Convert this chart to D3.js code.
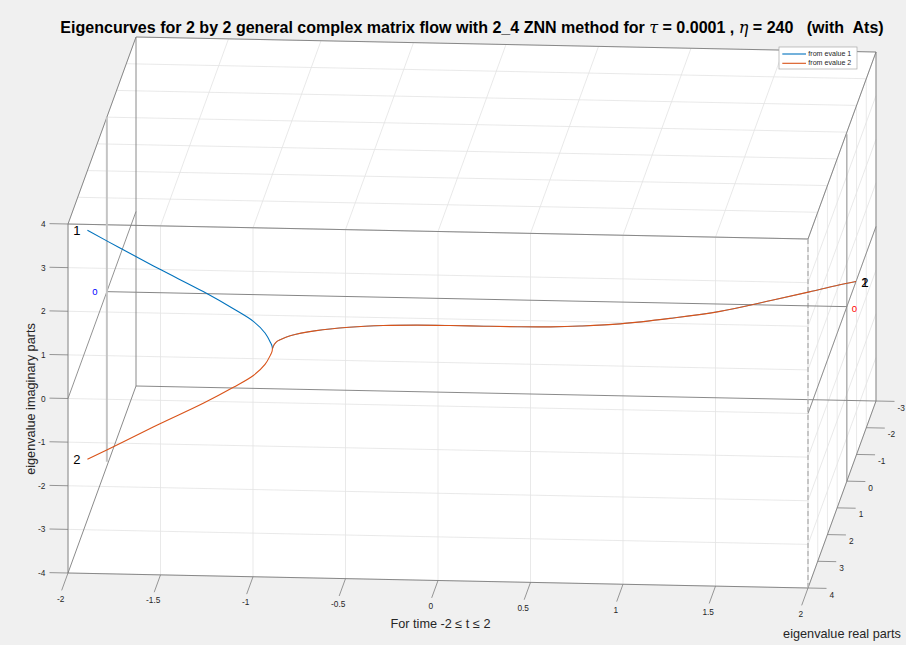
<!DOCTYPE html>
<html><head><meta charset="utf-8">
<script src="https://cdn.jsdelivr.net/npm/d3@7"></script>
<style>
html,body{margin:0;padding:0;background:#f0f0f0;}
svg{display:block;font-family:"Liberation Sans",Arial,Helvetica,sans-serif;}
</style></head><body>
<svg id="chart" width="906" height="645"></svg>
<script>
// ---------------- data ----------------
const timeTicks = [-2, -1.5, -1, -0.5, 0, 0.5, 1, 1.5, 2];
const timeTickLabels = ["-2", "-1.5", "-1", "-0.5", "0", "0.5", "1", "1.5", "2"];
const realTicks = [-3, -2, -1, 0, 1, 2, 3, 4];
const realTickLabels = ["-3", "-2", "-1", "0", "1", "2", "3", "4"];
const imagTicks = [-4, -3, -2, -1, 0, 1, 2, 3, 4];
const imagTickLabels = ["-4", "-3", "-2", "-1", "0", "1", "2", "3", "4"];
const seriesNames = ["from evalue 1", "from evalue 2"];
const seriesColors = ["#0072bd", "#d95319"];

// eigenvalue 1 (before coalescence)
const tEval1  = [-2.0, -1.824, -1.608, -1.374, -1.211, -1.103, -1.04, -1.009, -1.002, -1.0];
const reEval1 = [2.0, 2.0, 2.0, 2.0, 2.0, 2.0, 2.0, 2.0, 2.0, 2.0];
const imEval1 = [2.63, 2.24, 1.77, 1.28, 0.90, 0.62, 0.36, 0.13, 0.06, 0.0];
// eigenvalue 2 (before coalescence)
const tEval2  = [-2.0, -1.824, -1.608, -1.374, -1.211, -1.103, -1.04, -1.009, -1.002, -1.0];
const reEval2 = [2.0, 2.0, 2.0, 2.0, 2.0, 2.0, 2.0, 2.0, 2.0, 2.0];
const imEval2 = [-2.62, -2.24, -1.77, -1.28, -0.90, -0.62, -0.36, -0.13, -0.06, 0.0];
// common path of both eigenvalues after coalescence
const tMerged  = [-1.0, -0.999, -0.99, -0.977, -0.93, -0.8, -0.63, -0.45, -0.27, -0.09, 0.09, 0.27, 0.45, 0.606, 0.817, 1.074, 1.329, 1.58, 1.77, 1.9, 2.0];
const reMerged = [2.0, 1.85, 1.72, 1.66, 1.5, 1.29, 1.14, 1.05, 1.01, 1.0, 1.0, 0.995, 0.975, 0.922, 0.81, 0.568, 0.27, -0.17, -0.52, -0.77, -0.94];
const imMerged = [0, 0, 0, 0, 0, 0, 0, 0, 0, 0, 0, 0, 0, 0, 0, 0, 0, 0, 0, 0, 0];

// ---------------- projection ----------------
const tDom = [-2, 2], rDom = [-3, 4], zDom = [-4, 4];
const tS = d3.scaleLinear().domain(tDom).range([0, 1]);
const rS = d3.scaleLinear().domain([rDom[1], rDom[0]]).range([0, 1]);
const zS = d3.scaleLinear().domain(zDom).range([0, 1]);
const O = [68, 573], VT = [740, 15], VR = [68, -187], VZ = [0, -349];
function P(t, r, z) {
  const a = tS(t), b = rS(r), c = zS(z);
  return [O[0] + a * VT[0] + b * VR[0] + c * VZ[0], O[1] + a * VT[1] + b * VR[1] + c * VZ[1]];
}

const svg = d3.select("#chart");
svg.append("rect").attr("width", 906).attr("height", 645).attr("fill", "#f0f0f0");

// back planes (white)
const hex = [P(-2,4,4), P(-2,-3,4), P(2,-3,4), P(2,-3,-4), P(2,4,-4), P(-2,4,-4)];
svg.append("polygon").attr("points", hex.map(p => p.join(",")).join(" ")).attr("fill", "#ffffff");

function seg(g, a, b, stroke, w, dash) {
  const l = g.append("line").attr("x1", a[0]).attr("y1", a[1]).attr("x2", b[0]).attr("y2", b[1])
    .attr("stroke", stroke).attr("stroke-width", w);
  if (dash) l.attr("stroke-dasharray", dash);
  return l;
}

// grid
const grid = svg.append("g");
const gc = "#e3e3e3", gw = 0.8;
imagTicks.forEach(z => { seg(grid, P(-2,4,z), P(2,4,z), gc, gw); seg(grid, P(2,-3,z), P(2,4,z), gc, gw); });
timeTicks.forEach(t => { seg(grid, P(t,4,-4), P(t,4,4), gc, gw); seg(grid, P(t,-3,4), P(t,4,4), gc, gw); });
realTicks.forEach(r => { seg(grid, P(-2,r,4), P(2,r,4), gc, gw); seg(grid, P(2,r,-4), P(2,r,4), gc, gw); });

// box edges
const box = svg.append("g");
const bc = "#7d7d7d", bw = 0.9;
[[-2,4],[-2,-3],[2,-3]].forEach(([t,r]) => seg(box, P(t,r,-4), P(t,r,4), bc, bw));
[[4,4],[-3,4],[4,-4],[-3,-4]].forEach(([r,z]) => seg(box, P(-2,r,z), P(2,r,z), bc, bw));
[[-2,4],[2,4],[-2,-4],[2,-4]].forEach(([t,z]) => seg(box, P(t,-3,z), P(t,4,z), bc, bw));
seg(box, P(2,4,-4), P(2,4,4), "#b4b4b4", 1.4, "5,3");

// reference axes inside the box
const ref = svg.append("g");
seg(ref, P(-2,0,0), P(2,0,0), "#868686", 1);
seg(ref, P(-2,-3,0), P(-2,4,0), "#868686", 0.9);
seg(ref, P(2,-3,0), P(2,4,0), "#868686", 0.9);
seg(ref, P(-2,0,-3.9), P(-2,0,4), "#c4c4c4", 2);
seg(ref, P(2,0,-4), P(2,0,3.95), "#8a8a8a", 0.9);

// ticks + tick labels
const ax = svg.append("g").attr("font-size", 8.3).attr("fill", "#262626");
const tc = "#7d7d7d";
timeTicks.forEach((t, i) => {
  const a = P(t,4,-4), b = P(t,4.65,-4);
  seg(ax, a, b, tc, 0.8);
  ax.append("text").attr("x", a[0] - 7.3).attr("y", a[1] + 25.5).attr("text-anchor", "middle")
    .attr("dominant-baseline", "central").text(timeTickLabels[i]);
});
realTicks.forEach((r, i) => {
  const a = P(2,r,-4), b = P(2.1,r,-4);
  seg(ax, a, b, tc, 0.8);
  ax.append("text").attr("x", a[0] + 21.5).attr("y", a[1] + 6.5).attr("text-anchor", "start")
    .attr("dominant-baseline", "central").text(realTickLabels[i]);
});
imagTicks.forEach((z, i) => {
  const a = P(-2,4,z), b = P(-2.1,4,z);
  seg(ax, a, b, tc, 0.8);
  ax.append("text").attr("x", a[0] - 22.5).attr("y", a[1]).attr("text-anchor", "end")
    .attr("dominant-baseline", "central").text(imagTickLabels[i]);
});

// axis labels
const lab = svg.append("g").attr("font-size", 12.7).attr("fill", "#262626");
lab.append("text").attr("transform", "translate(31,399) rotate(-90)").attr("text-anchor", "middle")
  .attr("dominant-baseline", "central").text("eigenvalue imaginary parts");
lab.append("text").attr("x", 440.5).attr("y", 624).attr("text-anchor", "middle")
  .attr("dominant-baseline", "central").text("For time -2 \u2264 t \u2264 2");
lab.append("text").attr("x", 842).attr("y", 634).attr("text-anchor", "middle")
  .attr("dominant-baseline", "central").text("eigenvalue real parts");

// curves
const line = d3.line().curve(d3.curveCatmullRom.alpha(0.5));
const pts = (ts, rs, zs) => ts.map((t, i) => P(t, rs[i], zs[i]));
const series = [
  { name: seriesNames[0], color: seriesColors[0], parts: [pts(tEval1, reEval1, imEval1), pts(tMerged, reMerged, imMerged)] },
  { name: seriesNames[1], color: seriesColors[1], parts: [pts(tEval2, reEval2, imEval2), pts(tMerged, reMerged, imMerged)] }
];
const cg = svg.append("g");
series.forEach((s, si) => s.parts.forEach((p, pi) =>
  cg.append("path").attr("d", line(p)).attr("fill", "none").attr("stroke", s.color)
    .attr("stroke-width", (si === 0 && pi === 1) ? 0.6 : 1.1)));

// curve labels
const tl = svg.append("g").attr("font-size", 13).attr("fill", "#000");
const s1 = P(tEval1[0], reEval1[0], imEval1[0]);
const s2 = P(tEval2[0], reEval2[0], imEval2[0]);
const e = P(tMerged[tMerged.length-1], reMerged[reMerged.length-1], imMerged[imMerged.length-1]);
tl.append("text").attr("x", s1[0] - 10.5).attr("y", s1[1]).attr("text-anchor", "middle").attr("dominant-baseline", "central").text("1");
tl.append("text").attr("x", s2[0] - 10.5).attr("y", s2[1]).attr("text-anchor", "middle").attr("dominant-baseline", "central").text("2");
tl.append("text").attr("x", e[0] + 9).attr("y", e[1] + 0.5).attr("text-anchor", "middle").attr("dominant-baseline", "central").text("1");
tl.append("text").attr("x", e[0] + 9).attr("y", e[1] + 0.5).attr("text-anchor", "middle").attr("dominant-baseline", "central").text("2");
const z0 = P(-2,0,0), z1 = P(2,0,0);
svg.append("text").attr("x", z0[0] - 12).attr("y", z0[1]).attr("font-size", 9.5).attr("fill", "#0000ff")
  .attr("text-anchor", "middle").attr("dominant-baseline", "central").text("0");
svg.append("text").attr("x", z1[0] + 7.5).attr("y", z1[1] + 2).attr("font-size", 9.5).attr("fill", "#ff0000")
  .attr("text-anchor", "middle").attr("dominant-baseline", "central").text("0");

// legend
const lg = svg.append("g");
lg.append("rect").attr("x", 779).attr("y", 47).attr("width", 78).attr("height", 22)
  .attr("fill", "#fff").attr("stroke", "#a8a8a8").attr("stroke-width", 0.7);
series.forEach((s, i) => {
  const y = 54 + i * 9.3;
  seg(lg, [782.3, y], [806, y], s.color, 1.1);
  lg.append("text").attr("x", 808.3).attr("y", y).attr("font-size", 7.1).attr("fill", "#262626")
    .attr("dominant-baseline", "central").text(s.name);
});

// title
const title = svg.append("text").attr("x", 472).attr("y", 27).attr("text-anchor", "middle")
  .attr("dominant-baseline", "central").attr("font-weight", "bold").attr("font-size", 16)
  .attr("fill", "#000").style("white-space", "pre");
title.append("tspan").text("Eigencurves for 2 by 2 general complex matrix flow with 2_4 ZNN method for ");
title.append("tspan").attr("font-family", "'DejaVu Serif','Liberation Serif',serif").attr("font-style", "italic").attr("font-weight", "normal").text("\u03c4");
title.append("tspan").text(" = 0.0001 , ");
title.append("tspan").attr("font-family", "'DejaVu Serif','Liberation Serif',serif").attr("font-style", "italic").attr("font-weight", "normal").text("\u03b7");
title.append("tspan").text(" = 240   (with  Ats)");
const w = title.node().getComputedTextLength();
if (w > 0) title.attr("font-size", 16 * 824 / w);
</script>
</body></html>
